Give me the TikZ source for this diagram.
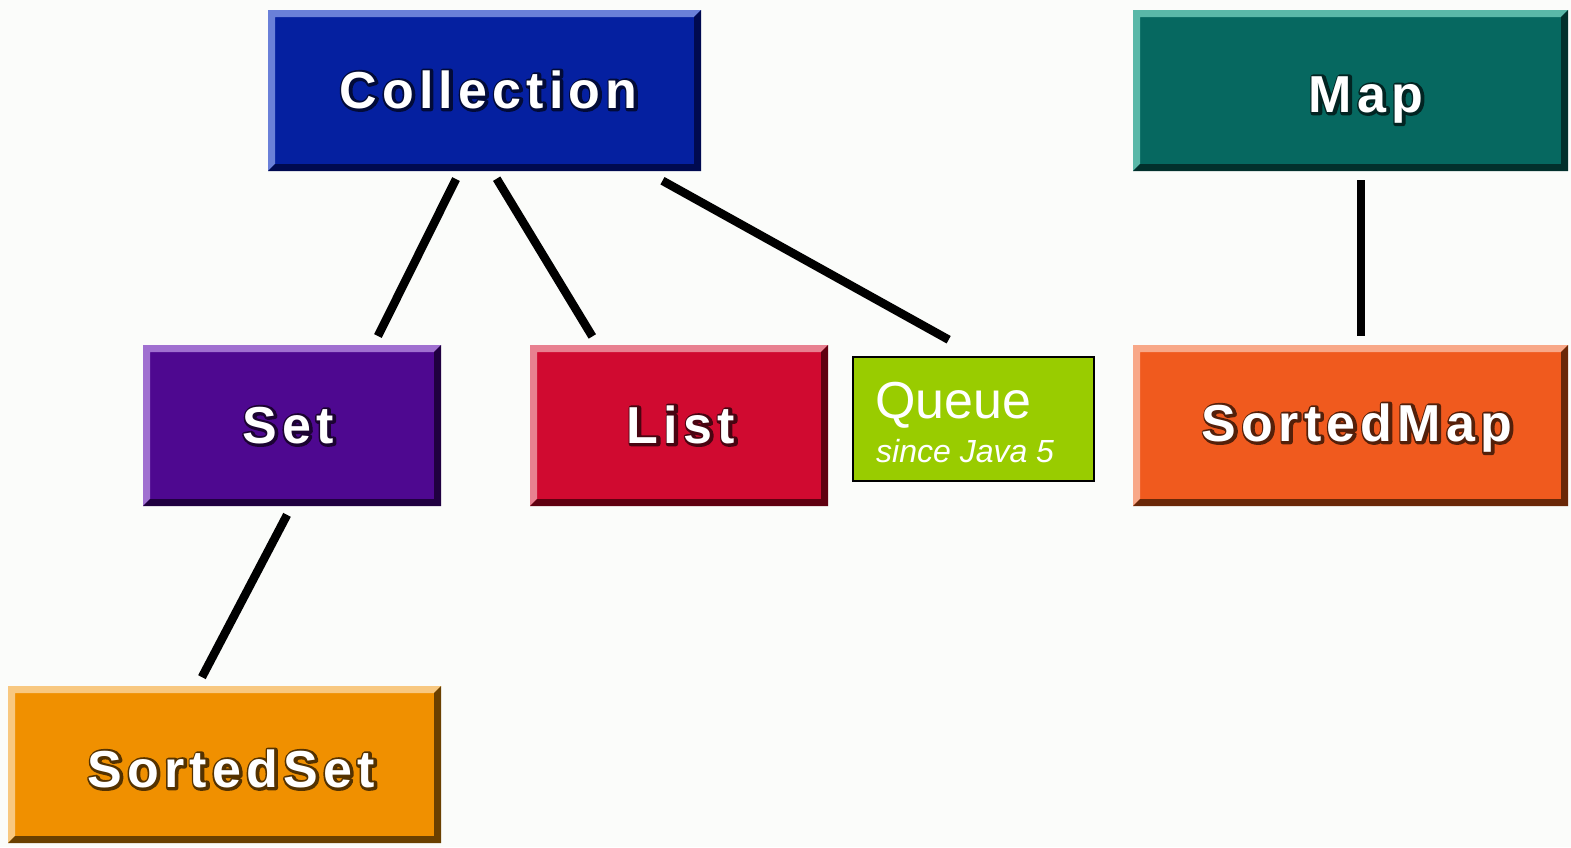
\documentclass[tikz,border=0pt]{standalone}
\usepackage{fontspec}
\setmainfont{Liberation Sans}
\newfontfamily\boxfont{Liberation Sans}[LetterSpace=10]
\newfontfamily\boxfontshadow{Liberation Sans}[LetterSpace=10, FakeBold=10]
\definecolor{bgc}{HTML}{FBFCFA}
\definecolor{colC}{HTML}{0520A0}\definecolor{colCl}{HTML}{6A80D8}\definecolor{colCd}{HTML}{000A50}
\definecolor{colM}{HTML}{066860}\definecolor{colMl}{HTML}{5AB8A8}\definecolor{colMd}{HTML}{02302C}
\definecolor{colS}{HTML}{4E0890}\definecolor{colSl}{HTML}{A070D0}\definecolor{colSd}{HTML}{200040}
\definecolor{colL}{HTML}{D00A30}\definecolor{colLl}{HTML}{E88090}\definecolor{colLd}{HTML}{600010}
\definecolor{colSM}{HTML}{F05A1E}\definecolor{colSMl}{HTML}{F8A888}\definecolor{colSMd}{HTML}{6A2808}
\definecolor{colSS}{HTML}{F09000}\definecolor{colSSl}{HTML}{F8C880}\definecolor{colSSd}{HTML}{6A4000}
\definecolor{colQ}{HTML}{99CC00}
\newcommand\halotext[2]{\leavevmode\special{pdf:code 1 j}%
 \rlap{\boxfontshadow\bfseries\color{#1}\kern0.8pt\raisebox{-0.8pt}{#2}}%
 {\color{white}#2}}
\tikzset{
 bev/.style n args={3}{fill=#1, inner sep=0pt, outer sep=0pt, path picture={
   \fill[#2] (path picture bounding box.north west) -- (path picture bounding box.north east)
     -- ([shift={(-7pt,-7pt)}]path picture bounding box.north east)
     -- ([shift={(7pt,-7pt)}]path picture bounding box.north west)
     -- ([shift={(7pt,7pt)}]path picture bounding box.south west)
     -- (path picture bounding box.south west) -- cycle;
   \fill[#3] (path picture bounding box.south east) -- (path picture bounding box.south west)
     -- ([shift={(7pt,7pt)}]path picture bounding box.south west)
     -- ([shift={(-7pt,7pt)}]path picture bounding box.south east)
     -- ([shift={(-7pt,-7pt)}]path picture bounding box.north east)
     -- (path picture bounding box.north east) -- cycle;
 }},
 lbl/.style={anchor=base, inner sep=0pt, font=\boxfont\bfseries\fontsize{52}{56}\selectfont},
 link/.style={draw=black, line width=8.5pt}
}
\begin{document}
\begin{tikzpicture}[x=1pt,y=-1pt]
\fill[bgc] (0,0) rectangle (1571,847);
\useasboundingbox (0,0) rectangle (1571,847);
% boxes
\node[bev={colC}{colCl}{colCd}, minimum width=433pt, minimum height=161pt] (Collection) at (484.5,90.5) {};
\node[bev={colM}{colMl}{colMd}, minimum width=435pt, minimum height=161pt] (Map) at (1350.5,90.5) {};
\node[bev={colS}{colSl}{colSd}, minimum width=298pt, minimum height=161pt] (Set) at (292,425.5) {};
\node[bev={colL}{colLl}{colLd}, minimum width=298pt, minimum height=161pt] (List) at (679,425.5) {};
\node[bev={colSM}{colSMl}{colSMd}, minimum width=435pt, minimum height=161pt] (SortedMap) at (1350.5,425.5) {};
\node[bev={colSS}{colSSl}{colSSd}, minimum width=433pt, minimum height=157pt] (SortedSet) at (224.5,764.5) {};
\node[fill=colQ, draw=black, line width=2.5pt, minimum width=241pt, minimum height=124pt, inner sep=0pt] (Queue) at (973.5,419) {};
% labels
\node[lbl] (tCollection) at (488.5,108) {\halotext{colC!35!black}{Collection}};
\node[lbl] (tMap) at (1366,112) {\halotext{colM!35!black}{Map}};
\node[lbl] (tSet) at (288,443) {\halotext{colS!35!black}{Set}};
\node[lbl] (tList) at (681,443) {\halotext{colL!35!black}{List}};
\node[lbl] (tSortedMap) at (1357,441) {\halotext{colSM!35!black}{SortedMap}};
\node[lbl] (tSortedSet) at (231,787) {\halotext{colSS!35!black}{SortedSet}};
\node[anchor=base west, inner sep=0pt, text=white, font=\fontsize{52}{55}\selectfont] (tQueue) at (875,418) {Queue};
\node[anchor=base west, inner sep=0pt, text=white, font=\itshape\fontsize{32}{35}\selectfont] (tSince) at (876,462) {since Java 5};
% connectors
\draw[link, shorten <=9pt, shorten >=10pt] ([xshift=-24.5pt]Collection.south) -- ([xshift=81.5pt]Set.north);
\draw[link, shorten <=9pt, shorten >=10pt] ([xshift=7.5pt]Collection.south) -- ([xshift=-81.5pt]List.north);
\draw[link, shorten <=20pt, shorten >=33pt] ([xshift=160.5pt]Collection.south) -- ([xshift=4pt]Queue.north);
\draw[link, shorten <=9pt, shorten >=9pt] ([xshift=10.5pt]Map.south) -- ([xshift=10.5pt]SortedMap.north);
\draw[link, shorten <=10pt, shorten >=10pt] ([xshift=-0.3pt]Set.south) -- ([xshift=-27.2pt]SortedSet.north);
\end{tikzpicture}
\end{document}
